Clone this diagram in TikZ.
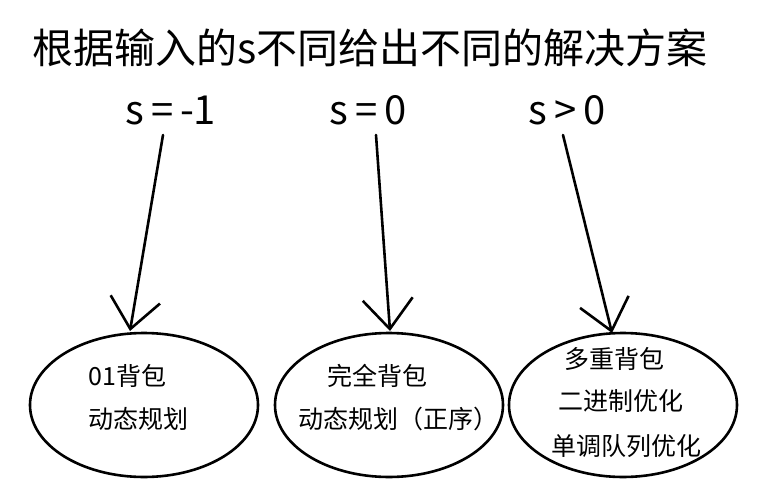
\documentclass[tikz,border=0pt]{standalone}
\usepackage{fontspec}
\setmainfont{Noto Sans CJK SC}
\usetikzlibrary{arrows.meta,shapes.geometric}
\begin{document}
\begin{tikzpicture}[x=1pt, y=-1pt, line width=2.6pt, line join=round, line cap=round,
		>={Straight Barb[length=30pt,width=50pt]},
		plan/.style={draw, ellipse, minimum width=228pt, minimum height=144pt, inner sep=0pt},
		lbl/.style={inner sep=0pt, anchor=base west, font=\fontsize{25}{30}\selectfont},
		cond/.style={inner sep=0pt, anchor=base, font=\fontsize{40}{48}\selectfont}]
	\useasboundingbox (0,0) rectangle (777,498);
	\node[inner sep=0pt, anchor=base west, font=\fontsize{41}{48}\selectfont] (title) at (31,63) {根据输入的s不同给出不同的解决方案};
	\node[cond] (s1) at (171,124) {s\,=\,-1};
	\node[cond] (s2) at (368,124) {s\,=\,0};
	\node[cond] (s3) at (567,124) {s\,>\,0};
	\path (144,405) node[plan] (e1) {} (389,405) node[plan] (e2) {} (623,405) node[plan] (e3) {};
	\node[lbl] (p1a) at (87,385) {01背包};
	\node[lbl] (p1b) at (87,428) {动态规划};
	\node[lbl] (p2a) at (326,385) {完全背包};
	\node[lbl] (p2b) at (297,428) {动态规划（正序）};
	\node[lbl] (p3a) at (563,368) {多重背包};
	\node[lbl] (p3b) at (557,410) {二进制优化};
	\node[lbl] (p3c) at (550,455) {单调队列优化};
	\path (163,135) coordinate (a1) (376,135) coordinate (a2) (563,135) coordinate (a3);
	\path (130,331) coordinate (b1) (390,331) coordinate (b2) (612,333) coordinate (b3);
	\foreach \i in {1,2,3} \draw[->] (a\i)--(b\i);
\end{tikzpicture}
\end{document}
